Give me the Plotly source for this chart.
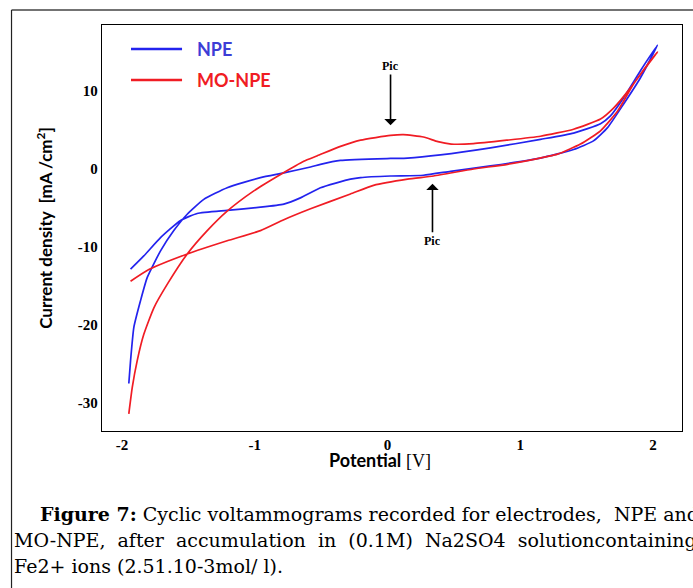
import plotly.graph_objects as go

# ---- data ----
npe_potential = [-1.936, -1.836, -1.710, -1.559, -1.434, -1.208, -0.957, -0.781, -0.656, -0.505,
                 -0.279, -0.203, 0.023, 0.271, 0.475, 0.776, 1.153, 1.402, 1.552, 1.658,
                 1.778, 1.906, 2.035,
                 1.906, 1.778, 1.680, 1.605, 1.402, 1.153, 0.776, 0.399, 0.151, 0.023,
                 -0.354, -0.505, -0.580, -0.781, -0.957, -1.208, -1.384, -1.509, -1.610,
                 -1.710, -1.810, -1.861, -1.911, -1.936, -1.949]
npe_current = [-12.85, -11.15, -8.8, -6.6, -5.7, -5.3, -4.9, -4.5, -3.7, -2.4,
               -1.3, -1.1, -0.9, -0.8, -0.3, 0.4, 1.4, 2.5, 3.6, 5.3,
               8.3, 11.7, 15.9,
               12.6, 9.1, 6.8, 5.8, 4.6, 3.8, 2.7, 1.8, 1.4, 1.35,
               1.1, 0.6, 0.26, -0.5, -1.1, -2.4, -3.9, -5.8, -7.9,
               -10.5, -13.9, -16.9, -20.3, -24.6, -27.5]

mo_potential = [-1.936, -1.798, -1.509, -1.208, -0.957, -0.781, -0.580, -0.279, -0.105, 0.151,
                0.347, 0.648, 0.904, 1.281, 1.454, 1.605, 1.733, 1.854, 2.035,
                1.959, 1.831, 1.703, 1.605, 1.402, 1.153, 0.904, 0.648, 0.480, 0.380, 0.271,
                0.120, 0.023, -0.203, -0.354, -0.528, -0.631, -0.806, -1.007, -1.208, -1.358,
                -1.509, -1.660, -1.760, -1.836, -1.886, -1.923, -1.949]
mo_current = [-14.4, -12.9, -10.9, -9.2, -7.9, -6.5, -5.1, -3.2, -2.1, -1.3,
              -0.9, 0.0, 0.6, 1.9, 3.2, 4.9, 7.4, 10.9, 15.0,
              13.4, 10.4, 7.8, 6.4, 5.1, 4.2, 3.7, 3.25, 3.2, 3.5, 4.1,
              4.4, 4.3, 3.7, 2.9, 1.7, 1.0, -0.7, -2.8, -5.4, -7.9,
              -10.9, -14.8, -17.8, -21.2, -24.6, -28.0, -31.4]

x_ticks = [-2, -1, 0, 1, 2]
y_ticks = [10, 0, -10, -20, -30]
series_names = ["NPE", "MO-NPE"]

BLUE = "#2323ee"
RED = "#f01c24"
BLUE_TXT = "#3d3dd6"
SERIF = "Liberation Serif"
SANS = "Lato"
NB = "\u00a0"

fig = go.Figure()
fig.add_trace(go.Scatter(
    x=npe_potential, y=npe_current, mode="lines", name=series_names[0],
    line=dict(color=BLUE, width=1.7, shape="spline", smoothing=0.5)))
fig.add_trace(go.Scatter(
    x=mo_potential, y=mo_current, mode="lines", name=series_names[1],
    line=dict(color=RED, width=1.7, shape="spline", smoothing=0.5)))

axis_common = dict(showgrid=False, zeroline=False, showline=True, linecolor="black",
                   linewidth=1.3, mirror=True, ticks="",
                   tickfont=dict(family=SERIF, size=15, color="black", weight="bold"))

fig.update_layout(
    width=693, height=588,
    margin=dict(l=102, r=11, t=25, b=157),
    paper_bgcolor="white", plot_bgcolor="white",
    showlegend=False,
    xaxis=dict(range=[-2.151, 2.219], tickvals=x_ticks,
               ticktext=[str(v) for v in x_ticks], **axis_common),
    yaxis=dict(range=[-33.59, 18.46], tickvals=y_ticks,
               ticktext=[str(v) for v in y_ticks],
               title=dict(text="<b>Current density  [mA /cm<sup>2</sup>]</b>",
                          font=dict(family=SANS, size=17, color="black"), standoff=20),
               **axis_common),
)

# x-axis title (slightly left of centre, as in the reference)
fig.add_annotation(xref="paper", yref="paper", x=0.479, y=-0.071, xanchor="center", yanchor="middle",
                   showarrow=False,
                   text="<b>Potential</b> <span style='font-family:Liberation Serif'>[V]</span>",
                   font=dict(family=SANS, size=18, color="black"))

# Legend (drawn inside the plot, top-left)
for yp, col, tcol, name in [(0.941, BLUE, BLUE_TXT, series_names[0]),
                            (0.8645, RED, RED, series_names[1])]:
    fig.add_shape(type="line", xref="paper", yref="paper", x0=0.05, x1=0.138, y0=yp, y1=yp,
                  line=dict(color=col, width=2.6))
    fig.add_annotation(xref="paper", yref="paper", x=0.161, y=yp, xanchor="left", yanchor="middle",
                       showarrow=False, text="<b>%s</b>" % name,
                       font=dict(family=SANS, size=18, color=tcol))

# Peak markers
fig.add_annotation(x=0.023, y=5.6, ax=0.023, ay=13.2, xref="x", yref="y", axref="x", ayref="y",
                   text="<b>Pic</b>", showarrow=True, arrowhead=1, arrowsize=1.3, arrowwidth=1.6,
                   arrowcolor="black", font=dict(family=SERIF, size=12, color="black"))
fig.add_annotation(x=0.339, y=-1.9, ax=0.339, ay=-9.2, xref="x", yref="y", axref="x", ayref="y",
                   text="<b>Pic</b>", showarrow=True, arrowhead=1, arrowsize=1.3, arrowwidth=1.6,
                   arrowcolor="black", font=dict(family=SERIF, size=12, color="black"))

# Outer frame (top and left edges)
fig.add_shape(type="line", xref="paper", yref="paper", x0=-0.156, x1=1.1, y0=1.037, y1=1.037,
              line=dict(color="#444444", width=1.5))
fig.add_shape(type="line", xref="paper", yref="paper", x0=-0.156, x1=-0.156, y0=1.037, y1=-0.4,
              line=dict(color="#222222", width=1.2))

# Caption (justified look via extra non-breaking spaces)
cap_font = dict(family="DejaVu Serif", size=19, color="black")
line1 = "<b>Figure 7:</b> Cyclic voltammograms recorded for electrodes," + NB + " NPE and"
line2 = (" " + NB).join(["MO-NPE,", "after", "accumulation", "in", "(0.1M)", "Na2SO4",
                         "solutioncontaining"])
line3 = "Fe2+ ions (2.51.10-3mol/ l)."
fig.add_annotation(xref="paper", yref="paper", x=-0.110, y=-0.204, xanchor="left", yanchor="middle",
                   showarrow=False, align="left", font=cap_font, text=line1)
fig.add_annotation(xref="paper", yref="paper", x=-0.155, y=-0.268, xanchor="left", yanchor="middle",
                   showarrow=False, align="left", font=cap_font, text=line2)
fig.add_annotation(xref="paper", yref="paper", x=-0.155, y=-0.333, xanchor="left", yanchor="middle",
                   showarrow=False, align="left", font=cap_font, text=line3)

fig.write_html("out.html")
